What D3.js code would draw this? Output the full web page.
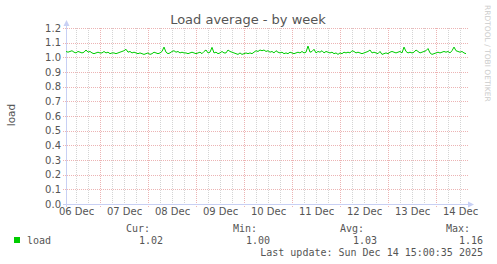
<!DOCTYPE html>
<html>
<head>
<meta charset="utf-8">
<script src="https://cdn.jsdelivr.net/npm/d3@7"></script>
<style>
  body { margin: 0; background: #fff; }
  svg { display: block; }
  .axis text { font-family: "DejaVu Sans", sans-serif; font-size: 10px; fill: #555; }
  .legend { font-family: "DejaVu Sans Mono", monospace; font-size: 10px; fill: #555; }
</style>
</head>
<body>
<svg id="chart" width="497" height="264"></svg>
<script>
// hourly load samples, first one at 06 Dec 07:00 UTC
var startTime = Date.UTC(2025, 11, 6, 7, 0);
var endTime = Date.UTC(2025, 11, 14, 15, 0);
var loadValues = [
  1.04, 1.035, 1.04, 1.045, 1.035, 1.03, 1.04, 1.035, 1.03, 1.035,
  1.05, 1.035, 1.04, 1.03, 1.025, 1.03, 1.035, 1.03, 1.03, 1.04,
  1.03, 1.035, 1.025, 1.03, 1.03, 1.025, 1.03, 1.035, 1.04, 1.045,
  1.055, 1.035, 1.04, 1.03, 1.035, 1.03, 1.025, 1.03, 1.025, 1.02,
  1.025, 1.03, 1.02, 1.025, 1.035, 1.03, 1.025, 1.03, 1.04, 1.07,
  1.035, 1.025, 1.03, 1.04, 1.045, 1.035, 1.04, 1.03, 1.035, 1.03,
  1.03, 1.025, 1.03, 1.035, 1.03, 1.025, 1.03, 1.035, 1.025, 1.04,
  1.05, 1.03, 1.035, 1.068, 1.03, 1.035, 1.025, 1.03, 1.04, 1.03,
  1.03, 1.05, 1.04, 1.035, 1.03, 1.025, 1.02, 1.03, 1.02, 1.025,
  1.03, 1.025, 1.03, 1.025, 1.035, 1.045, 1.04, 1.05, 1.045, 1.05,
  1.04, 1.045, 1.035, 1.04, 1.03, 1.045, 1.035, 1.03, 1.035, 1.025,
  1.03, 1.025, 1.035, 1.03, 1.025, 1.03, 1.035, 1.03, 1.04, 1.03,
  1.035, 1.077, 1.035, 1.04, 1.055, 1.03, 1.04, 1.035, 1.045, 1.03,
  1.04, 1.035, 1.03, 1.035, 1.025, 1.03, 1.02, 1.03, 1.025, 1.035,
  1.03, 1.035, 1.03, 1.045, 1.04, 1.03, 1.035, 1.03, 1.025, 1.03,
  1.035, 1.04, 1.05, 1.03, 1.035, 1.03, 1.025, 1.04, 1.02, 1.025,
  1.03, 1.025, 1.035, 1.04, 1.035, 1.03, 1.035, 1.04, 1.03, 1.07,
  1.04, 1.03, 1.035, 1.03, 1.035, 1.05, 1.04, 1.03, 1.035, 1.04,
  1.045, 1.06, 1.03, 1.02, 1.025, 1.03, 1.035, 1.03, 1.035, 1.04,
  1.035, 1.04, 1.03, 1.045, 1.07, 1.045, 1.04, 1.035, 1.04, 1.03,
  1.025
];
var dayLabels = ["06 Dec", "07 Dec", "08 Dec", "09 Dec", "10 Dec", "11 Dec", "12 Dec", "13 Dec", "14 Dec"];
var yTicks = [0, 0.1, 0.2, 0.3, 0.4, 0.5, 0.6, 0.7, 0.8, 0.9, 1.0, 1.1, 1.2];
var legendHeads = ["Cur:", "Min:", "Avg:", "Max:"];
var legendValues = ["1.02", "1.00", "1.03", "1.16"];
var lastUpdate = "Last update: Sun Dec 14 15:00:35 2025";

var svg = d3.select("#chart");
var plotLeft = 66, plotRight = 466, plotTop = 28, plotBottom = 204;

var x = d3.scaleUtc().domain([startTime, endTime]).range([plotLeft, plotRight]);
var y = d3.scaleLinear().domain([0, 1.2]).range([plotBottom, plotTop]);

var data = loadValues.map(function(v, i) {
  return {t: new Date(startTime + i * 3600000), v: v};
});

// title and side texts
svg.append("text")
    .attr("x", 248).attr("y", 24)
    .attr("text-anchor", "middle")
    .style("font-family", "DejaVu Sans, sans-serif")
    .style("font-size", "13px")
    .style("fill", "#555")
    .text("Load average - by week");

svg.append("text")
    .attr("transform", "translate(15,115) rotate(-90)")
    .attr("text-anchor", "middle")
    .style("font-family", "DejaVu Sans, sans-serif")
    .style("font-size", "10.5px")
    .style("fill", "#555")
    .text("load");

svg.append("text")
    .attr("transform", "translate(485,5) rotate(90)")
    .style("font-family", "DejaVu Sans, sans-serif")
    .style("font-size", "7.5px")
    .style("fill", "#ccc")
    .text("RRDTOOL / TOBI OETIKER");

// grid
var grid = svg.append("g").attr("shape-rendering", "crispEdges");

var sixHours = d3.utcHour.every(6).range(new Date(startTime), new Date(endTime + 1))
    .filter(function(d) { return d.getUTCHours() != 0; });
var midnights = d3.utcDay.range(new Date(startTime), new Date(endTime + 1));

grid.selectAll(".minor")
  .data(sixHours)
  .enter().append("line")
    .attr("x1", function(d) { return Math.round(x(d)) + 0.5; })
    .attr("x2", function(d) { return Math.round(x(d)) + 0.5; })
    .attr("y1", plotTop).attr("y2", plotBottom + 2)
    .attr("stroke", "#d4d4d4")
    .attr("stroke-dasharray", "1,1");

grid.selectAll(".hmaj")
  .data(yTicks.slice(1))
  .enter().append("line")
    .attr("x1", plotLeft - 3).attr("x2", plotRight + 3)
    .attr("y1", function(d) { return Math.round(y(d)) + 0.5; })
    .attr("y2", function(d) { return Math.round(y(d)) + 0.5; })
    .attr("stroke", "#ecb4b4")
    .attr("stroke-dasharray", "1,1");

grid.selectAll(".vmaj")
  .data(midnights)
  .enter().append("line")
    .attr("x1", function(d) { return Math.round(x(d)) + 0.5; })
    .attr("x2", function(d) { return Math.round(x(d)) + 0.5; })
    .attr("y1", plotTop).attr("y2", plotBottom + 3)
    .attr("stroke", "#ecb4b4")
    .attr("stroke-dasharray", "1,1");

// axes
var yAxis = svg.append("g")
    .attr("class", "axis")
    .attr("transform", "translate(" + (plotLeft - 4) + ",0)")
    .call(d3.axisLeft(y).tickValues(yTicks).tickFormat(d3.format(".1f")).tickSize(0).tickPadding(1));
yAxis.select(".domain").remove();

var noons = midnights.map(function(d) { return d3.utcHour.offset(d, -12); });
noons.push(d3.utcHour.offset(midnights[midnights.length - 1], 12));
var xAxis = svg.append("g")
    .attr("class", "axis")
    .attr("transform", "translate(0," + plotBottom + ")")
    .call(d3.axisBottom(x).tickValues(noons).tickFormat(function(d, i) { return dayLabels[i]; }).tickSize(0).tickPadding(4));
xAxis.select(".domain").remove();

var axisColor = "#c8d0f4";
svg.append("line")
    .attr("x1", plotLeft - 3).attr("x2", plotRight + 4)
    .attr("y1", plotBottom + 0.5).attr("y2", plotBottom + 0.5)
    .attr("stroke", axisColor).attr("shape-rendering", "crispEdges");
svg.append("line")
    .attr("x1", plotLeft + 0.5).attr("x2", plotLeft + 0.5)
    .attr("y1", plotBottom + 3).attr("y2", plotTop - 4)
    .attr("stroke", axisColor).attr("shape-rendering", "crispEdges");
svg.append("path")
    .attr("d", "M" + (plotRight + 2) + "," + (plotBottom - 2.5) + "L" + (plotRight + 8) + "," + (plotBottom + 0.5) + "L" + (plotRight + 2) + "," + (plotBottom + 3.5) + "Z")
    .attr("fill", axisColor);
svg.append("path")
    .attr("d", "M" + (plotLeft - 2.5) + "," + (plotTop - 2) + "L" + (plotLeft + 0.5) + "," + (plotTop - 8) + "L" + (plotLeft + 3.5) + "," + (plotTop - 2) + "Z")
    .attr("fill", axisColor);

// load line
var line = d3.line()
    .x(function(d) { return x(d.t); })
    .y(function(d) { return y(d.v); });

svg.append("path")
    .datum(data)
    .attr("d", line)
    .attr("fill", "none")
    .attr("stroke", "#00cc00")
    .attr("stroke-width", 1);

// legend
svg.append("rect")
    .attr("x", 14).attr("y", 237)
    .attr("width", 6).attr("height", 6)
    .attr("fill", "#00cc00");
svg.append("text").attr("class", "legend")
    .attr("x", 27).attr("y", 243.5)
    .text("load");

var colEnds = [163, 270, 377, 483];
svg.selectAll(".lhead")
  .data(legendHeads)
  .enter().append("text")
    .attr("class", "legend")
    .attr("x", function(d, i) { return colEnds[i] - 13; })
    .attr("y", 231.5)
    .attr("text-anchor", "end")
    .text(function(d) { return d; });
svg.selectAll(".lval")
  .data(legendValues)
  .enter().append("text")
    .attr("class", "legend")
    .attr("x", function(d, i) { return colEnds[i]; })
    .attr("y", 243.5)
    .attr("text-anchor", "end")
    .text(function(d) { return d; });

svg.append("text").attr("class", "legend")
    .attr("x", 483).attr("y", 255.5)
    .attr("text-anchor", "end")
    .text(lastUpdate);
</script>
</body>
</html>
